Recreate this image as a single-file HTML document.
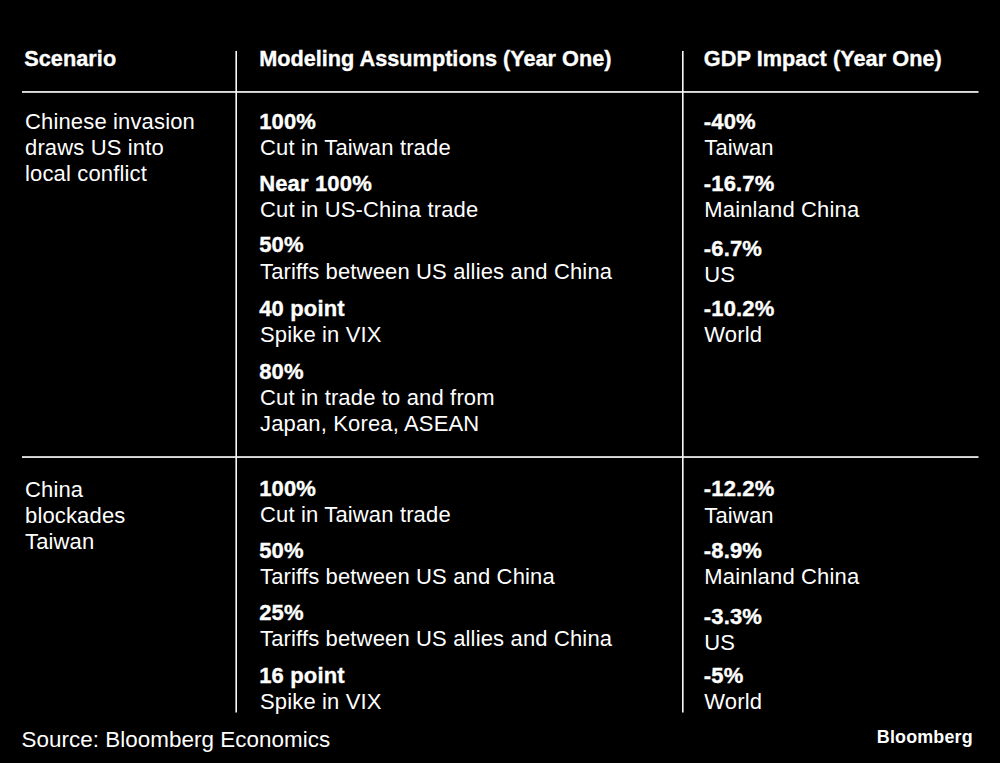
<!DOCTYPE html>
<html><head><meta charset="utf-8"><style>
html,body{margin:0;padding:0;background:#000;width:1000px;height:763px;overflow:hidden}
svg{display:block}
text{font-family:"Liberation Sans",sans-serif;fill:#fff}
</style></head><body>
<svg width="1000" height="763" viewBox="0 0 1000 763">
<rect width="1000" height="763" fill="#000"/>
<rect x="22" y="91.1" width="956.5" height="1.7" fill="#f8f8f8"/>
<rect x="22" y="456.2" width="956.5" height="1.7" fill="#f8f8f8"/>
<rect x="235.4" y="51" width="1.6" height="661.5" fill="#f8f8f8"/>
<rect x="682" y="51" width="1.6" height="661.5" fill="#f8f8f8"/>
<text x="24.2" y="65.5" style="font-size:21.7px;font-weight:bold;letter-spacing:0.05px;stroke:#fff;stroke-width:0.35px">Scenario</text>
<text x="259.2" y="65.5" style="font-size:21.7px;font-weight:bold;letter-spacing:0px;stroke:#fff;stroke-width:0.35px">Modeling Assumptions (Year One)</text>
<text x="703.8" y="65.5" style="font-size:21.7px;font-weight:bold;letter-spacing:0.05px;stroke:#fff;stroke-width:0.35px">GDP Impact (Year One)</text>
<text x="25" y="129" style="font-size:22px;font-weight:normal;letter-spacing:0.15px">Chinese invasion</text>
<text x="25" y="155" style="font-size:22px;font-weight:normal;letter-spacing:0.15px">draws US into</text>
<text x="25" y="181" style="font-size:22px;font-weight:normal;letter-spacing:0.15px">local conflict</text>
<text x="25" y="496.5" style="font-size:22px;font-weight:normal;letter-spacing:0.15px">China</text>
<text x="25" y="522.5" style="font-size:22px;font-weight:normal;letter-spacing:0.15px">blockades</text>
<text x="25" y="548.5" style="font-size:22px;font-weight:normal;letter-spacing:0.15px">Taiwan</text>
<text x="259.2" y="128.5" style="font-size:22px;font-weight:bold;letter-spacing:0.15px;stroke:#fff;stroke-width:0.35px">100%</text>
<text x="260.0" y="154.6" style="font-size:22px;font-weight:normal;letter-spacing:0.15px">Cut in Taiwan trade</text>
<text x="259.2" y="190.5" style="font-size:22px;font-weight:bold;letter-spacing:0.15px;stroke:#fff;stroke-width:0.35px">Near 100%</text>
<text x="260.0" y="216.6" style="font-size:22px;font-weight:normal;letter-spacing:0.15px">Cut in US-China trade</text>
<text x="259.2" y="252" style="font-size:22px;font-weight:bold;letter-spacing:0.15px;stroke:#fff;stroke-width:0.35px">50%</text>
<text x="260.0" y="278.5" style="font-size:22px;font-weight:normal;letter-spacing:0.15px">Tariffs between US allies and China</text>
<text x="259.2" y="315.8" style="font-size:22px;font-weight:bold;letter-spacing:0.15px;stroke:#fff;stroke-width:0.35px">40 point</text>
<text x="260.0" y="341.5" style="font-size:22px;font-weight:normal;letter-spacing:0.15px">Spike in VIX</text>
<text x="259.2" y="378.7" style="font-size:22px;font-weight:bold;letter-spacing:0.15px;stroke:#fff;stroke-width:0.35px">80%</text>
<text x="260.0" y="405" style="font-size:22px;font-weight:normal;letter-spacing:0.15px">Cut in trade to and from</text>
<text x="260.0" y="431" style="font-size:22px;font-weight:normal;letter-spacing:0.15px">Japan, Korea, ASEAN</text>
<text x="259.2" y="495.8" style="font-size:22px;font-weight:bold;letter-spacing:0.15px;stroke:#fff;stroke-width:0.35px">100%</text>
<text x="260.0" y="522.4" style="font-size:22px;font-weight:normal;letter-spacing:0.15px">Cut in Taiwan trade</text>
<text x="259.2" y="558" style="font-size:22px;font-weight:bold;letter-spacing:0.15px;stroke:#fff;stroke-width:0.35px">50%</text>
<text x="260.0" y="584" style="font-size:22px;font-weight:normal;letter-spacing:0.15px">Tariffs between US and China</text>
<text x="259.2" y="619.6" style="font-size:22px;font-weight:bold;letter-spacing:0.15px;stroke:#fff;stroke-width:0.35px">25%</text>
<text x="260.0" y="646.4" style="font-size:22px;font-weight:normal;letter-spacing:0.15px">Tariffs between US allies and China</text>
<text x="259.2" y="683" style="font-size:22px;font-weight:bold;letter-spacing:0.15px;stroke:#fff;stroke-width:0.35px">16 point</text>
<text x="260.0" y="709.3" style="font-size:22px;font-weight:normal;letter-spacing:0.15px">Spike in VIX</text>
<text x="703.8" y="128.8" style="font-size:22px;font-weight:bold;letter-spacing:0.15px;stroke:#fff;stroke-width:0.35px">-40%</text>
<text x="704.3" y="155" style="font-size:22px;font-weight:normal;letter-spacing:0.15px">Taiwan</text>
<text x="703.8" y="190.6" style="font-size:22px;font-weight:bold;letter-spacing:0.15px;stroke:#fff;stroke-width:0.35px">-16.7%</text>
<text x="704.3" y="217" style="font-size:22px;font-weight:normal;letter-spacing:0.15px">Mainland China</text>
<text x="703.8" y="255.8" style="font-size:22px;font-weight:bold;letter-spacing:0.15px;stroke:#fff;stroke-width:0.35px">-6.7%</text>
<text x="704.3" y="282.3" style="font-size:22px;font-weight:normal;letter-spacing:0.15px">US</text>
<text x="703.8" y="315.8" style="font-size:22px;font-weight:bold;letter-spacing:0.15px;stroke:#fff;stroke-width:0.35px">-10.2%</text>
<text x="704.3" y="341.8" style="font-size:22px;font-weight:normal;letter-spacing:0.15px">World</text>
<text x="703.8" y="495.8" style="font-size:22px;font-weight:bold;letter-spacing:0.15px;stroke:#fff;stroke-width:0.35px">-12.2%</text>
<text x="704.3" y="522.5" style="font-size:22px;font-weight:normal;letter-spacing:0.15px">Taiwan</text>
<text x="703.8" y="558" style="font-size:22px;font-weight:bold;letter-spacing:0.15px;stroke:#fff;stroke-width:0.35px">-8.9%</text>
<text x="704.3" y="584.2" style="font-size:22px;font-weight:normal;letter-spacing:0.15px">Mainland China</text>
<text x="703.8" y="624.3" style="font-size:22px;font-weight:bold;letter-spacing:0.15px;stroke:#fff;stroke-width:0.35px">-3.3%</text>
<text x="704.3" y="650.3" style="font-size:22px;font-weight:normal;letter-spacing:0.15px">US</text>
<text x="703.8" y="683.3" style="font-size:22px;font-weight:bold;letter-spacing:0.15px;stroke:#fff;stroke-width:0.35px">-5%</text>
<text x="704.3" y="709.3" style="font-size:22px;font-weight:normal;letter-spacing:0.15px">World</text>
<text x="21.5" y="746.5" style="font-size:22.4px;font-weight:normal;letter-spacing:0.05px">Source: Bloomberg Economics</text>
<text x="876.8" y="742.9" style="font-size:17.9px;font-weight:bold;letter-spacing:0.18px">Bloomberg</text>
</svg>
</body></html>
